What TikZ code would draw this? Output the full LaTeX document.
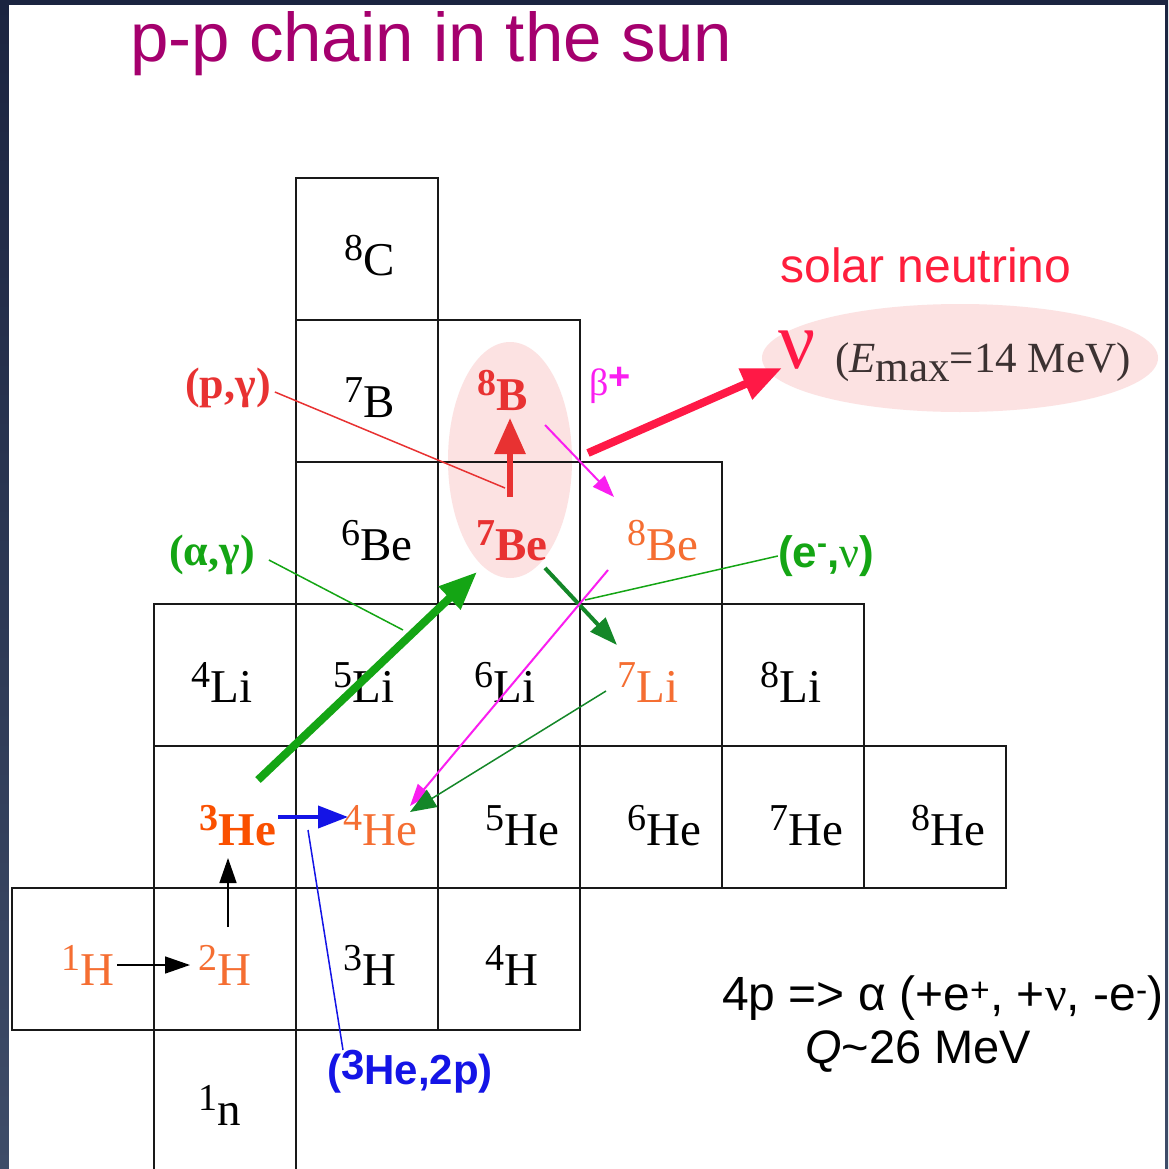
\documentclass[tikz,border=0pt]{standalone}
\usepackage{fontspec}
\setmainfont{Liberation Serif}
\setsansfont{Liberation Sans}
\usetikzlibrary{arrows.meta,shapes.geometric}
\definecolor{navy}{RGB}{27,36,64}
\definecolor{navylight}{RGB}{62,76,104}
\definecolor{titlec}{RGB}{165,0,110}
\definecolor{nucorange}{RGB}{245,110,50}
\definecolor{he3c}{RGB}{250,80,0}
\definecolor{bered}{RGB}{232,50,50}
\definecolor{pinkfill}{RGB}{252,226,226}
\definecolor{nured}{RGB}{255,25,70}
\definecolor{solarred}{RGB}{255,30,60}
\definecolor{gbright}{RGB}{20,165,20}
\definecolor{gdark}{RGB}{20,135,40}
\definecolor{mag}{RGB}{250,30,240}
\definecolor{bluec}{RGB}{20,20,230}
\definecolor{emaxc}{RGB}{60,50,50}
\newcommand{\iso}[2]{\raisebox{15pt}{\fontsize{38}{38}\selectfont #1}#2}
\tikzset{
  cell/.style={draw=black!90, line width=2.5pt, minimum width=142pt, minimum height=142pt, inner sep=0pt, outer sep=0pt},
  nuc/.style={inner sep=0pt, anchor=base, font=\fontsize{47}{47}\selectfont},
  nucb/.style={inner sep=0pt, anchor=base, font=\bfseries\fontsize{47}{47}\selectfont},
  glow/.style={ellipse, fill=pinkfill, inner sep=0pt},
  lbl/.style={inner sep=0pt, font=\bfseries\fontsize{44}{44}\selectfont},
  thinblack/.style={-{Triangle[length=25pt,width=17pt]}, line width=1.5pt, black},
  bluearrow/.style={-{Triangle[length=30pt,width=22pt]}, line width=4pt, bluec},
  redup/.style={-{Triangle[length=36pt,width=30pt]}, line width=6pt, bered},
  nuarrow/.style={-{Triangle[length=40pt,width=32pt]}, line width=8pt, nured},
  greenthick/.style={-{Triangle[length=38pt,width=30pt]}, line width=8pt, gbright},
  greenmid/.style={-{Triangle[length=28pt,width=20pt]}, line width=4pt, gdark},
  greenthin/.style={-{Triangle[length=26pt,width=20pt]}, line width=1.5pt, gdark},
  magarrow/.style={-{Triangle[length=22pt,width=16pt]}, line width=2pt, mag},
  pointer/.style={line width=1.5pt}
}
\begin{document}
\begin{tikzpicture}[x=1pt,y=-1pt]
\useasboundingbox (0,0) rectangle (1168,1169);
\shade[top color=navy,bottom color=navylight] (0,0) rectangle (1168,1169);
\fill[white] (9,5) rectangle (1165,1169);

% title
\node[font=\sffamily\fontsize{69}{69}\selectfont, text=titlec, anchor=base west, inner sep=0pt] (title) at (130,62) {p-p chain in the sun};

% highlight ellipses
\node[glow, minimum width=124pt, minimum height=236pt] (glowBe) at (510,460) {};
\node[glow, minimum width=396pt, minimum height=108pt] (glowNu) at (960,358) {};

% cells
\foreach \c/\r/\n in {2/0/C8, 2/1/B7, 3/1/B8, 2/2/Be6, 3/2/Be7, 4/2/Be8,
  1/3/Li4, 2/3/Li5, 3/3/Li6, 4/3/Li7, 5/3/Li8,
  1/4/He3, 2/4/He4, 3/4/He5, 4/4/He6, 5/4/He7, 6/4/He8,
  0/5/H1, 1/5/H2, 2/5/H3, 3/5/H4, 1/6/n1}
  \node[cell] (cell\n) at ({12+142*\c+71},{178+142*\r+71}) {};

% nuclide labels
\node[nuc] (C8) at (370,275) {\iso{8}{C}};
\node[nuc] (B7) at (370,417) {\iso{7}{B}};
\node[nucb, text=bered] (B8) at (503,410) {\iso{8}{B}};
\node[nuc] (Be6) at (377,560) {\iso{6}{Be}};
\node[nucb, text=bered] (Be7) at (512,560) {\iso{7}{Be}};
\node[nuc, text=nucorange] (Be8) at (663,560) {\iso{8}{Be}};
\node[nuc] (Li4) at (222,702) {\iso{4}{Li}};
\node[nuc] (Li5) at (364,702) {\iso{5}{Li}};
\node[nuc] (Li6) at (505,702) {\iso{6}{Li}};
\node[nuc, text=nucorange] (Li7) at (648,702) {\iso{7}{Li}};
\node[nuc] (Li8) at (791,702) {\iso{8}{Li}};
\node[nucb, text=he3c] (He3) at (238,845) {\iso{3}{He}};
\node[nuc, text=nucorange] (He4) at (380,845) {\iso{4}{He}};
\node[nuc] (He5) at (522,845) {\iso{5}{He}};
\node[nuc] (He6) at (664,845) {\iso{6}{He}};
\node[nuc] (He7) at (806,845) {\iso{7}{He}};
\node[nuc] (He8) at (948,845) {\iso{8}{He}};
\node[nuc, text=nucorange] (H1) at (88,985) {\iso{1}{H}};
\node[nuc, text=nucorange] (H2) at (225,985) {\iso{2}{H}};
\node[nuc] (H3) at (370,985) {\iso{3}{H}};
\node[nuc] (H4) at (512,985) {\iso{4}{H}};
\node[nuc] (n1) at (220,1125) {\iso{1}{n}};

% reaction labels
\node[lbl, text=bered] (pg) at (228,388) {(p,γ)};
\node[lbl, text=gbright] (ag) at (212,555) {(α,γ)};
\node[inner sep=0pt, text=mag, font=\fontsize{38}{38}\selectfont] (bplus) at (610,385) {β\raisebox{6pt}{\sffamily\bfseries +}};
\node[inner sep=0pt, text=gbright, font=\sffamily\bfseries\fontsize{44}{44}\selectfont] (env) at (826,556) {(e\raisebox{14pt}{\fontsize{30}{30}\selectfont -},\textrm{\mdseries ν})};
\node[inner sep=0pt, text=bluec, font=\sffamily\bfseries\fontsize{42}{42}\selectfont] (he3p) at (410,1072) {(\raisebox{5pt}{3}He,2p)};
\node[inner sep=0pt, text=nured, font=\fontsize{82}{82}\selectfont] (nu) at (797,350) {ν};
\node[inner sep=0pt, text=emaxc, font=\fontsize{43}{43}\selectfont, anchor=west] (emax) at (835,362) {(\textit{E}\raisebox{-9pt}{max}=14 MeV)};
\node[inner sep=0pt, text=solarred, font=\sffamily\fontsize{48}{48}\selectfont] (solar) at (926,265) {solar neutrino};
\node[inner sep=0pt, font=\sffamily\fontsize{48}{48}\selectfont] (sum) at (943,998) {4p => α (+e\textsuperscript{+}, +\textrm{ν}, -e\textsuperscript{-})};
\node[inner sep=0pt, font=\sffamily\fontsize{47}{47}\selectfont] (Q) at (918,1052) {\textit{Q}\textasciitilde 26 MeV};

% connector end points
\coordinate (a1s) at (117,965);  \coordinate (a1e) at (190,965);
\coordinate (a2s) at (228,927);  \coordinate (a2e) at (228,858);
\coordinate (a3s) at (278,817);  \coordinate (a3e) at (348,817);
\coordinate (a4s) at (258,780);  \coordinate (a4e) at (477,572);
\coordinate (a5s) at (510,497);  \coordinate (a5e) at (510,418);
\coordinate (a6s) at (588,453);  \coordinate (a6e) at (782,368);
\coordinate (a7s) at (545,425);  \coordinate (a7e) at (614,497);
\coordinate (a8s) at (545,568);  \coordinate (a8e) at (617,645);
\coordinate (a9s) at (608,570);  \coordinate (a9e) at (410,806);
\coordinate (a10s) at (606,691); \coordinate (a10e) at (410,812);
\coordinate (p1) at (505,488);
\coordinate (p2) at (403,630);
\coordinate (p3) at (585,600);
\coordinate (p4) at (343,1050);
\coordinate (p0) at (308,830);

% pointer lines
\draw[pointer, bered] (pg.east) ++(4,4) coordinate (pgx) -- (p1);
\draw[pointer, gbright] (ag.east) ++(14,5) coordinate (agx) -- (p2);
\draw[pointer, gbright] (env.west) -- (p3);
\draw[pointer, bluec] (p0) -- (p4);

% arrows
\draw[thinblack] (a1s) -- (a1e);
\draw[thinblack] (a2s) -- (a2e);
\draw[bluearrow] (a3s) -- (a3e);
\draw[greenthick] (a4s) -- (a4e);
\draw[redup] (a5s) -- (a5e);
\draw[nuarrow] (a6s) -- (a6e);
\draw[magarrow] (a7s) -- (a7e);
\draw[greenmid] (a8s) -- (a8e);
\draw[magarrow] (a9s) -- (a9e);
\draw[greenthin] (a10s) -- (a10e);
\end{tikzpicture}
\end{document}
